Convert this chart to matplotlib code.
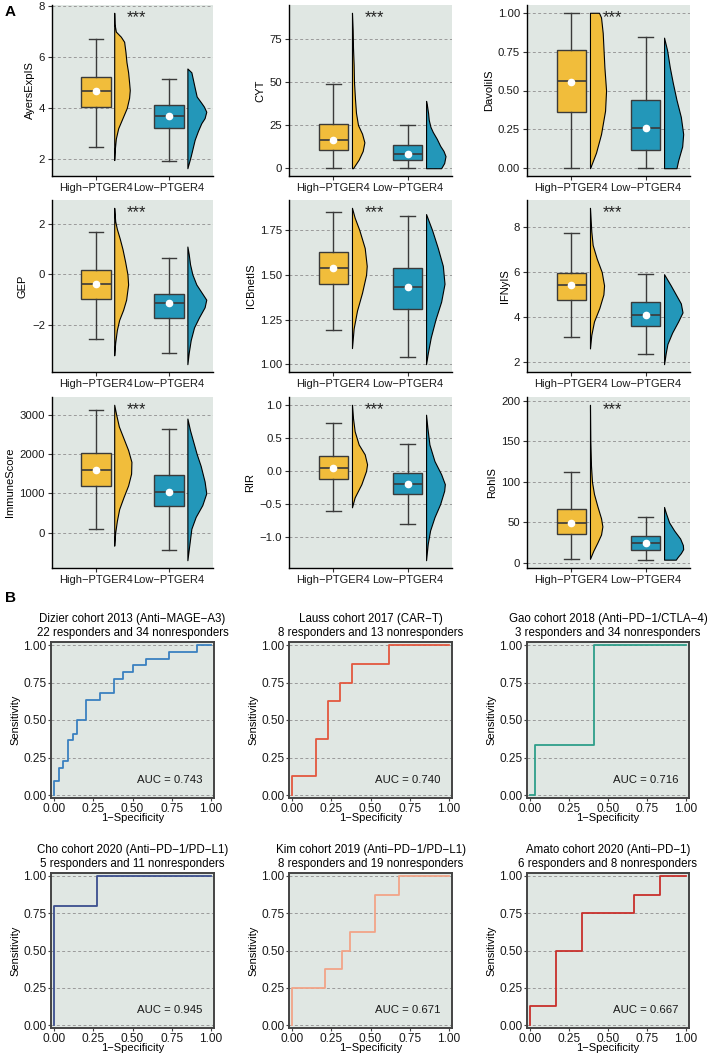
import numpy as np
import matplotlib.pyplot as plt

plt.rcParams['font.family'] = ['Liberation Sans', 'DejaVu Sans']

# ---------------- panel A data ----------------
groups = ['High−PTGER4', 'Low−PTGER4']
group_colors = ['#F1BD3B', '#2397B9']

# box stats per group: whislo, q1, median, q3, whishi, mean
ayers_box = [[2.47, 4.04, 4.68, 5.20, 6.70, 4.66], [1.91, 3.23, 3.69, 4.12, 5.14, 3.67]]
cyt_box = [[0.4, 10.5, 16.6, 25.8, 48.6, 16.5], [0.4, 4.8, 8.4, 13.2, 24.9, 8.5]]
davoli_box = [[0.0, 0.363, 0.558, 0.758, 1.0, 0.556], [0.0, 0.12, 0.256, 0.442, 0.844, 0.257]]
gep_box = [[-2.54, -0.99, -0.39, 0.18, 1.67, -0.39], [-3.12, -1.74, -1.13, -0.79, 0.64, -1.13]]
icb_box = [[1.19, 1.45, 1.54, 1.63, 1.85, 1.54], [1.04, 1.31, 1.43, 1.54, 1.83, 1.43]]
ifny_box = [[3.1, 4.75, 5.4, 5.95, 7.75, 5.4], [2.35, 3.6, 4.1, 4.65, 5.9, 4.1]]
immune_box = [[84, 1180, 1600, 2017, 3110, 1600], [-430, 666, 1028, 1466, 2628, 1030]]
rir_box = [[-0.6, -0.12, 0.05, 0.22, 0.72, 0.05], [-0.8, -0.35, -0.2, -0.03, 0.4, -0.2]]
rohis_box = [[5.3, 35.4, 49.3, 66.8, 112.4, 49.0], [3.3, 15.9, 24.4, 33.0, 57.0, 24.0]]

# half violin outlines: (value, density)
ayers_high = [(1.95, 0), (2.4, 2), (2.8, 5), (3.2, 12), (3.6, 25), (4.0, 38), (4.4, 45), (4.7, 47),
              (5.0, 45), (5.4, 42), (5.8, 37), (6.2, 34), (6.6, 30), (6.8, 20), (7.0, 5), (7.3, 1), (7.74, 0)]
ayers_low = [(1.63, 0), (2.1, 10), (2.75, 22), (3.1, 32), (3.4, 42), (3.6, 52), (3.85, 57), (4.05, 50),
             (4.2, 42), (4.45, 28), (4.8, 22), (5.1, 17), (5.4, 12), (5.55, 0)]
cyt_high = [(0, 3), (5, 20), (10, 32), (15, 37), (20, 30), (25, 18), (32, 12), (40, 9), (50, 6),
            (60, 5), (70, 3), (80, 2), (90, 0)]
cyt_low = [(0, 45), (3, 54), (7, 58), (10, 52), (13, 42), (17, 32), (21, 20), (24, 13), (28, 8),
           (32, 6), (36, 3), (39, 0)]
davoli_high = [(0.0, 0), (0.01, 2), (0.1, 18), (0.22, 33), (0.37, 45), (0.5, 48), (0.65, 43),
               (0.87, 38), (0.97, 33), (1.0, 27)]
davoli_low = [(0.0, 37), (0.05, 42), (0.14, 54), (0.22, 57), (0.33, 50), (0.44, 37), (0.55, 26),
              (0.65, 17), (0.76, 9), (0.84, 0)]
gep_high = [(-3.2, 0), (-2.7, 3), (-2.2, 8), (-1.8, 15), (-1.4, 27), (-1.0, 36), (-0.4, 42), (0.0, 40),
            (0.5, 33), (1.0, 25), (1.4, 17), (1.8, 8), (2.1, 3), (2.63, 0)]
gep_low = [(-3.55, 0), (-3.1, 4), (-2.6, 10), (-2.1, 20), (-1.7, 35), (-1.3, 52), (-1.0, 57),
           (-0.7, 42), (-0.4, 27), (0.0, 15), (0.4, 8), (0.8, 4), (1.1, 0)]
icb_high = [(1.09, 0), (1.2, 5), (1.3, 15), (1.4, 30), (1.5, 42), (1.55, 44), (1.65, 38),
            (1.75, 22), (1.82, 8), (1.875, 0)]
icb_low = [(1.0, 0), (1.06, 5), (1.15, 14), (1.25, 28), (1.35, 45), (1.45, 55), (1.55, 50),
           (1.65, 35), (1.75, 18), (1.84, 0)]
ifny_high = [(2.6, 0), (3.2, 4), (3.8, 12), (4.4, 28), (5.0, 40), (5.4, 42), (6.0, 35), (6.6, 20),
             (7.2, 8), (7.8, 4), (8.3, 2), (8.85, 0)]
ifny_low = [(1.9, 0), (2.4, 5), (2.8, 10), (3.3, 24), (3.8, 42), (4.2, 55), (4.6, 50), (5.0, 35),
            (5.4, 20), (5.9, 0)]
immune_high = [(-330, 0), (0, 3), (300, 8), (600, 15), (900, 28), (1200, 42), (1500, 51), (1800, 52),
               (2100, 42), (2400, 28), (2700, 14), (3000, 6), (3250, 0)]
immune_low = [(-700, 0), (-300, 6), (100, 12), (400, 25), (700, 45), (1000, 57), (1300, 52),
              (1700, 40), (2000, 28), (2300, 18), (2600, 8), (2900, 0)]
rir_high = [(-0.55, 0), (-0.4, 8), (-0.2, 28), (0.0, 42), (0.1, 45), (0.25, 38), (0.4, 20),
            (0.6, 8), (0.8, 3), (1.0, 0)]
rir_low = [(-1.35, 0), (-1.1, 5), (-0.9, 12), (-0.7, 25), (-0.5, 42), (-0.3, 54), (-0.2, 56),
           (-0.05, 45), (0.15, 25), (0.4, 10), (0.65, 4), (0.85, 0)]
rohis_high = [(5, 0), (15, 10), (25, 22), (35, 33), (45, 37), (55, 33), (70, 22), (85, 12),
              (100, 6), (120, 3), (150, 1), (195, 0)]
rohis_low = [(4, 35), (7, 40), (12, 50), (17, 57), (22, 56), (30, 48), (40, 30), (50, 15),
             (62, 5), (69, 0)]

ayers_ticks = [2, 4, 6, 8]
cyt_ticks = [0, 25, 50, 75]
davoli_ticks = [0.0, 0.25, 0.5, 0.75, 1.0]
gep_ticks = [-2, 0, 2]
icb_ticks = [1.0, 1.25, 1.5, 1.75]
ifny_ticks = [2, 4, 6, 8]
immune_ticks = [0, 1000, 2000, 3000]
rir_ticks = [-1.0, -0.5, 0.0, 0.5, 1.0]
rohis_ticks = [0, 50, 100, 150, 200]

# ---------------- panel B data ----------------
roc_titles = ['Dizier cohort 2013 (Anti−MAGE−A3)\n22 responders and 34 nonresponders',
              'Lauss cohort 2017 (CAR−T)\n8 responders and 13 nonresponders',
              'Gao cohort 2018 (Anti−PD−1/CTLA−4)\n3 responders and 34 nonresponders',
              'Cho cohort 2020 (Anti−PD−1/PD−L1)\n5 responders and 11 nonresponders',
              'Kim cohort 2019 (Anti−PD−1/PD−L1)\n8 responders and 19 nonresponders',
              'Amato cohort 2020 (Anti−PD−1)\n6 responders and 8 nonresponders']
roc_colors = ['#3A80C0', '#E3573F', '#2E9E8A', '#3C4F8E', '#F2A488', '#C8302C']
roc_auc = [0.743, 0.740, 0.716, 0.945, 0.671, 0.667]

dizier_fpr = [0, 0.029, 0.059, 0.088, 0.118, 0.147, 0.206, 0.294, 0.382, 0.441, 0.5, 0.588, 0.735, 0.912, 1.0]
dizier_tpr = [0, 0.091, 0.182, 0.227, 0.364, 0.409, 0.5, 0.636, 0.682, 0.773, 0.818, 0.864, 0.909, 0.955, 1.0]
lauss_fpr = [0, 0.154, 0.231, 0.308, 0.385, 0.615, 1.0]
lauss_tpr = [0, 0.125, 0.375, 0.625, 0.75, 0.875, 1.0]
gao_fpr = [0, 0.029, 0.412, 1.0]
gao_tpr = [0, 0, 0.333, 1.0]
cho_fpr = [0, 0.273, 1.0]
cho_tpr = [0, 0.8, 1.0]
kim_fpr = [0, 0.211, 0.316, 0.368, 0.526, 0.684, 1.0]
kim_tpr = [0, 0.25, 0.375, 0.5, 0.625, 0.875, 1.0]
amato_fpr = [0, 0.167, 0.333, 0.667, 0.833, 1.0]
amato_tpr = [0, 0.125, 0.5, 0.75, 0.875, 1.0]

# ---------------- drawing ----------------
W, H = 709, 1057
fig = plt.figure(figsize=(W / 100, H / 100), dpi=100)
bg = '#E0E7E3'
grid_kw = dict(color='#9a9a9a', lw=0.7, ls=(0, (3, 2.5)))
dens_scale = 1 / 221.0


def px_axes(left, top, right, bottom):
    return fig.add_axes([left / W, 1 - bottom / H, (right - left) / W, (bottom - top) / H])


panels = [('AyersExpIS', ayers_box, ayers_high, ayers_low, ayers_ticks, '%g'),
          ('CYT', cyt_box, cyt_high, cyt_low, cyt_ticks, '%g'),
          ('DavoliIS', davoli_box, davoli_high, davoli_low, davoli_ticks, '%.2f'),
          ('GEP', gep_box, gep_high, gep_low, gep_ticks, '%g'),
          ('ICBnetIS', icb_box, icb_high, icb_low, icb_ticks, '%.2f'),
          ('IFNyIS', ifny_box, ifny_high, ifny_low, ifny_ticks, '%g'),
          ('ImmuneScore', immune_box, immune_high, immune_low, immune_ticks, '%g'),
          ('RIR', rir_box, rir_high, rir_low, rir_ticks, '%.1f'),
          ('RohIS', rohis_box, rohis_high, rohis_low, rohis_ticks, '%g')]

cols_a = [(52, 213), (289, 452), (527, 690)]
rows_a = [(5, 176), (200, 372), (397, 568)]

for i, (name, box, vhigh, vlow, ticks, fmt) in enumerate(panels):
    l, r = cols_a[i % 3]
    t, b = rows_a[i // 3]
    ax = px_axes(l, t, r, b)
    ax.set_facecolor(bg)
    # ggplot style 5% expansion around all drawn values
    allv = [p[0] for p in vhigh + vlow] + [v for bx in box for v in bx[:5]]
    lo, hi = min(allv), max(allv)
    pad = 0.05 * (hi - lo)
    ax.set_ylim(lo - pad, hi + pad)
    ax.set_xlim(0.4, 2.6)
    ax.set_yticks(ticks)
    ax.set_yticklabels([(fmt % v).replace('-', '−') for v in ticks])
    ax.yaxis.grid(True, **grid_kw)
    ax.set_axisbelow(True)

    stats = [dict(whislo=s[0], q1=s[1], med=s[2], q3=s[3], whishi=s[4], mean=s[5], fliers=[]) for s in box]
    bp = ax.bxp(stats, positions=[1, 2], widths=0.4, patch_artist=True, showmeans=True, capwidths=0.2,
                boxprops=dict(edgecolor='#3a3a3a', linewidth=1.0),
                medianprops=dict(color='#3a3a3a', linewidth=1.2),
                whiskerprops=dict(color='#3a3a3a', linewidth=1.0),
                capprops=dict(color='#3a3a3a', linewidth=1.0),
                meanprops=dict(marker='o', markerfacecolor='white', markeredgecolor='white', markersize=4.5))
    for patch, c in zip(bp['boxes'], group_colors):
        patch.set_facecolor(c)

    for pos, v, c in zip([1, 2], [vhigh, vlow], group_colors):
        ys = [p[0] for p in v]
        ws = np.array([p[1] for p in v]) * dens_scale
        base = pos + 0.25
        ax.fill_betweenx(ys, base, base + ws, facecolor=c, edgecolor='black', linewidth=0.8, zorder=3)

    ax.text(1.55, hi - 0.03 * (hi - lo), '***', ha='center', va='center', fontsize=12, color='#222')
    ax.set_xticks([1, 2])
    ax.set_xticklabels(groups)
    ax.set_ylabel(name, fontsize=8, labelpad=3)
    for s in ['top', 'right']:
        ax.spines[s].set_visible(False)
    for s in ['left', 'bottom']:
        ax.spines[s].set_color('black')
        ax.spines[s].set_linewidth(1.0)
    ax.tick_params(length=3, width=0.8, color='#333', labelsize=8.2, labelcolor='#1a1a1a', pad=2)
    ax.tick_params(axis='x', labelsize=8)

roc_data = [(dizier_fpr, dizier_tpr), (lauss_fpr, lauss_tpr), (gao_fpr, gao_tpr),
            (cho_fpr, cho_tpr), (kim_fpr, kim_tpr), (amato_fpr, amato_tpr)]
cols_b = [(51, 214), (289, 452), (527, 689)]
rows_b = [(642, 798), (873, 1028)]
roc_ticks = [0, 0.25, 0.5, 0.75, 1.0]

for i, ((fpr, tpr), title, c, auc) in enumerate(zip(roc_data, roc_titles, roc_colors, roc_auc)):
    l, r = cols_b[i % 3]
    t, b = rows_b[i // 3]
    ax = px_axes(l, t, r, b)
    ax.set_facecolor(bg)
    ax.set_xlim(-0.02, 1.02)
    ax.set_ylim(-0.02, 1.02)
    ax.set_xticks(roc_ticks)
    ax.set_yticks(roc_ticks)
    ax.set_xticklabels(['%.2f' % v for v in roc_ticks])
    ax.set_yticklabels(['%.2f' % v for v in roc_ticks])
    ax.yaxis.grid(True, **grid_kw)
    ax.set_axisbelow(True)
    ax.plot(fpr, tpr, drawstyle='steps-pre', color=c, lw=1.3)
    ax.text(0.74, 0.1, 'AUC = %.3f' % auc, ha='center', va='center', fontsize=8.2, color='#1a1a1a')
    ax.set_title(title, fontsize=8.3, pad=4, linespacing=1.25)
    ax.set_xlabel('1−Specificity', fontsize=8, labelpad=-1)
    ax.set_ylabel('Sensitivity', fontsize=8, labelpad=2)
    for s in ax.spines.values():
        s.set_color('#444')
        s.set_linewidth(1.4)
    ax.tick_params(length=2.5, width=0.8, color='#444', labelsize=8.6, labelcolor='#1a1a1a', pad=1)

fig.text(5 / W, 1 - 12 / H, 'A', fontsize=11, fontweight='bold', va='center')
fig.text(5 / W, 1 - 598 / H, 'B', fontsize=11, fontweight='bold', va='center')

fig.savefig('out.png', dpi=100, facecolor='white')
